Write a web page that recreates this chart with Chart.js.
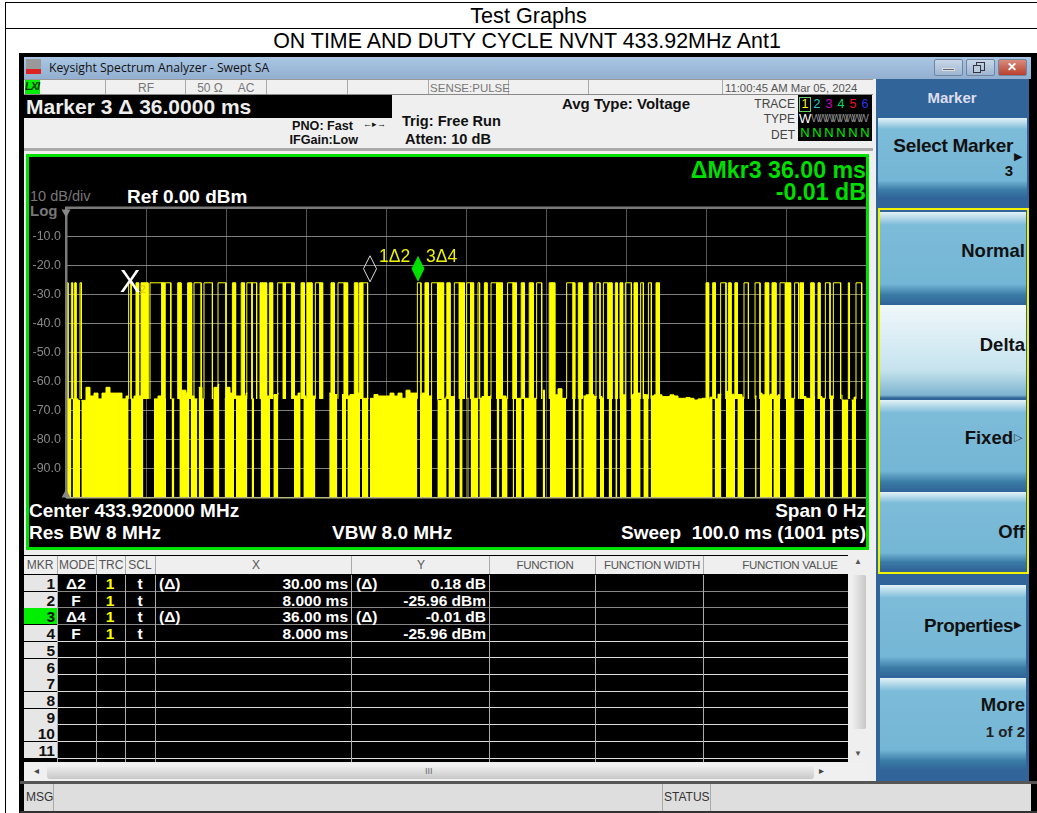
<!DOCTYPE html>
<html><head><meta charset="utf-8">
<title>ON TIME AND DUTY CYCLE</title>
<script src="https://cdn.jsdelivr.net/npm/chart.js@4"></script>
<style>
html,body{margin:0;padding:0;background:#fff;overflow:hidden}
body{width:1037px;height:813px;position:relative;font-family:"Liberation Sans",Arial,sans-serif}
.a{position:absolute;white-space:pre;box-sizing:border-box}
.b{font-weight:bold}
</style></head><body>
<div id="ui"></div>
<canvas id="trace" class="a" width="840" height="315" style="left:26px;top:195px;display:block;width:840px;height:315px"></canvas>
<script>
// sweep trace (ms along x, dBm along y)
const sweepMs = [0,100];
const yTicks = [-10,-20,-30,-40,-50,-60,-70,-80,-90];
const xTicks = [10,20,30,40,50,60,70,80,90];
const onLevel = -25.96;
const noiseFloor = -66;
// black gaps in the noise band, carrier on
const gapStart = [0.67,1.75,7.83,9.67,12.5,13.54,15.42,16.42,17.25,19.17,21,22.67,23.5,25.5,26.54,29.33,31.17,33.92,35,36.75,37.8,43.92,45.75,47.58,48.63,49.58,50.33,51.54,53.13,54.17,55.2,56,56.96,58.83,59.88,62.5,63.63,64.46,66.33,67.25,68.25,68.92,70,71.83,72.83,80.83,81.92,83.63,84.75,86.33,88.25,89.25,91.08,93.63,94.88,95.92,97.79,98.75];
const gapEnd = [0.83,1.92,8.13,11,13.2,14.17,15.58,16.58,18.42,19.83,21.25,23.2,24.33,25.92,28.5,29.67,32.9,34.5,35.17,37,38,44.25,46.42,47.8,49.17,50.17,50.58,51.67,53.83,54.46,55.83,56.25,57.25,59.58,60.5,63.33,64.04,64.67,66.75,67.83,68.67,69.25,70.63,72.17,73.08,81.08,82.5,83.92,86.13,86.75,88.42,90,92.25,94.25,95.5,96.96,98.21,100];
// hollow boxes at the top of the trace
const boxStart = [0.67,1.75,7.83,10.5,12.4,16,17.25,19,22.6,23.25,26.46,27.42,31.17,34,37.1,43.92,45.7,48.54,50.08,51.5,53.13,55.2,58.83,62.58,66.25,67.17,69.92,71.83,72.8,81.83,84.75,86.13,89.25,91.08,94.92,95.92,98.75];
const boxEnd = [0.83,1.92,8.13,12,13.1,16.9,18.3,20,23.25,23.83,27.17,28.25,31.75,34.79,37.7,44.37,46.46,49.17,50.6,51.7,53.83,55.9,59.46,63.4,66.75,67.75,70.67,72.17,73.17,82.5,85.3,86.75,89.92,91.58,95.5,96.83,99.46];
// short on/off bursts that smear to a solid column
const burstStart = [0,1.08,8.75,9.38,12,13.96,15.2,20.8,21.9,24.25,25.42,27.17,28.25,29.38,30.12,31.75,33.12,34.79,36.04,36.67,44.87,46.46,47.6,49.17,50.6,52.3,53.83,55.9,56.9,57.9,60.4,60.8,63.4,64.04,65.4,67.83,68.67,69.25,71,73.75,80,80.83,82.8,83.6,87.38,88.25,90,91.75,93.08,94,97.79];
const burstEnd = [0.25,1.25,9.08,10.25,12.33,14.38,15.7,21.2,22.3,25.08,25.83,27.42,28.54,29.79,30.75,32.08,33.54,35.2,36.46,37.08,45.3,47.2,48,49.8,50.95,52.63,54.54,56.3,57.3,58.4,60.8,61.1,63.6,64.54,65.8,68.25,68.92,69.58,71.42,74.17,80.33,81.17,83.13,83.92,87.83,88.75,90.58,92.17,93.5,94.25,97.92];
// noise top every 0.5 ms, 0..100
const noiseTop = [-66,-66,-66,-66.5,-66.5,-62,-65,-64,-66,-64,-62,-64,-64,-64,-66,-65,-66,-65,-65,-62,-66,-66,-66,-65,-66,-66,-66,-66,-66,-63,-64,-65,-66,-62,-66,-66,-66,-62,-61,-66,-62,-64,-65,-65,-65,-64,-66,-66,-66,-66,-65,-65,-64.5,-64,-64,-66,-65,-65,-64,-65,-66,-65,-65,-66,-65,-64,-64,
-64.5,-64.5,-64.5,-65,-64.5,-64.5,-64,-65.8,-65.8,-65.8,-64.5,-65,-65,-65,-64,-65,-64,-65.8,-63,-64,-64,-65,-64,-65,-65,-63,-66.5,-66,-65.2,-65.2,-65.2,-65.5,-65.8,-65.8,-65.8,-65.8,-65.8,-65.2,-65.2,-65,-65,-64.8,-65,-65.8,-65.8,-65.8,-65.8,-65.8,-65.8,-65.8,-65.8,-64,-63,-64,-64.6,-64.6,-62.5,-65.8,-65.8,-65.8,-65.8,-65,-65,-64.6,-64.6,-65.2,-65.2,-65.8,
-65.2,-65.2,-65.2,-65.2,-64.6,-64.6,-64.6,-64,-64,-64.5,-64.6,-65,-64.6,-64.6,-65.2,-65.2,-64.6,-65,-65.8,-65.8,-65.5,-65.8,-66.4,-66,-65.8,-66.2,-65.4,-66,-64.4,-63,-63.4,-64.4,-65,-64.5,-65.4,-66,-65.4,-65,-64,-64.6,-65,-64.4,-65,-64.6,-65,-65.8,-65.8,-65.8,-65.2,-65.2,-65.8,-65.8,-65.2,-65.2,-65.8,-65.8,-65,-64.6,-64.6,-66.4,-66.4,-66.4,-65.4,-65.4,-65.2,-65.2,-65.8,-65.8,-65.2,-65.2,-65.2,-65.2];
// marker table
const markerX = [38,8,44,8];
const markerRows = [
 ["1","Δ2","1","t","(Δ)","30.00 ms","(Δ)","0.18 dB"],
 ["2","F","1","t","","8.000 ms","","-25.96 dBm"],
 ["3","Δ4","1","t","(Δ)","36.00 ms","(Δ)","-0.01 dB"],
 ["4","F","1","t","","8.000 ms","","-25.96 dBm"],
 ["5"],["6"],["7"],["8"],["9"],["10"],["11"]];
const colHeads = ["MKR","MODE","TRC","SCL","X","Y","FUNCTION","FUNCTION WIDTH","FUNCTION VALUE"];
const colEdges = [24,57,96,125,155,351,489,595,703,848];
const headCenters = [40,77,111,140,256,421,545,652,790];
const statusCells = [105,185,266,347,428,508,588,722];

const ui = document.getElementById('ui');
function box(x,y,w,h,css){
  const d=document.createElement('div');d.className='a';
  d.style.cssText+=`left:${x}px;top:${y}px;width:${w}px;height:${h}px;${css||''}`;
  ui.appendChild(d);return d;
}
function txt(s,x,y,size,color,opt){
  opt=opt||{};
  const d=document.createElement('div');d.className='a'+(opt.bold?' b':'');
  d.textContent=s;
  let pos=`left:${x}px;`;
  if(opt.right)pos=`right:${1037-x}px;`;
  if(opt.center)pos=`left:${x}px;transform:translateX(-50%);`;
  d.style.cssText+=`${pos}top:${y}px;font-size:${size}px;line-height:${Math.round(size*1.2)}px;color:${color};${opt.css||''}`;
  ui.appendChild(d);return d;
}

// page table
box(5,2,1040,1,'background:#000');box(5,28,1040,1,'background:#000');box(5,2,1,811,'background:#000');
box(19,53,1,760,'background:#000');
txt("Test Graphs",528.5,3,21.6,'#000',{center:true});
txt("ON TIME AND DUTY CYCLE NVNT 433.92MHz Ant1",527,28,21.4,'#000',{center:true});

// window frame
box(20,53,1017,760,'background:#000');
box(24,57,1007,22,'background:linear-gradient(#aac6e4,#92afd0)');
box(26,59,15,15,'background:linear-gradient(#999 0 65%,#d22 65% 100%)');
txt("Keysight Spectrum Analyzer - Swept SA",49,60,12.2,'#111',{css:'font-family:"Open Sans"'});
[[934,29],[966,29],[998,29]].forEach((b,i)=>box(b[0],59,b[1],17,`border-radius:2px;border:1px solid #6f86a3;background:${i==2?'linear-gradient(#d98b7c,#b8402e)':'linear-gradient(#c8d7e8,#9db5d1)'}`));
box(942,68,13,3,'background:#667;border:1px solid #ddd');
box(976,62,9,9,'border:1px solid #334');box(973,65,8,8,'border:1px solid #334;background:#bcd');
txt("✕",1007,60,12,'#fff',{bold:true});

// main panel
box(24,79,852,702,'background:#efefef');
box(24,79,849,16,'background:#f0f0f0');
statusCells.forEach(x=>box(x,79,1,16,'background:#aaa'));
box(24,79,849,1,'background:#999');box(24,94,849,1,'background:#888');
box(25,80,15,14,'background:#0e0');
txt("LXI",25,80,11,'#030',{bold:true,css:'font-style:italic;letter-spacing:-1px'});
txt("RF",146,81,12,'#777',{center:true});
txt("50 Ω",210,81,12,'#777',{center:true});
txt("AC",246,81,12,'#777',{center:true});
txt("SENSE:PULSE",470,81,11.5,'#777',{center:true});
txt("11:00:45 AM Mar 05, 2024",725,81,11.3,'#555');
box(24,95,368,23,'background:#000');
txt("Marker 3 Δ 36.0000 ms",26,94,21,'#eee',{bold:true});
txt("PNO: Fast",353,119,12.6,'#111',{right:true,bold:true});
txt("IFGain:Low",358,133,12.6,'#111',{right:true,bold:true});
txt("←▸→",363,119,9,'#111',{});
txt("Trig: Free Run",402,112,14.6,'#111',{bold:true});
txt("Atten: 10 dB",405,130,14.6,'#111',{bold:true});
txt("Avg Type: Voltage",562,95,15,'#111',{bold:true});
txt("TRACE",795,97,12,'#444',{right:true});
txt("TYPE",795,112,12,'#444',{right:true});
txt("DET",795,128,12,'#444',{right:true});
box(798,95,74,46,'background:#000');
box(799,97,12,15,'border:1px solid #6c6');
["#ff0","#2cd","#c0c","#1d6","#e12","#33e"].forEach((c,i)=>txt(String(i+1),805+i*12,97,12.5,c,{center:true}));
txt("W",799,111,13,'#fff',{});
txt("WWWWWWWW",811,112,11,'#888',{css:'letter-spacing:-3.6px;font-size:11px'});
for(let i=0;i<6;i++)txt("N",805+i*12,125,13,'#0e0',{center:true});
box(24,148,849,3,'background:#aaa');

// screen
box(26,154,843,396,'background:#000;border:3px solid #00e000');
txt("ΔMkr3 36.00 ms",866,156,23.2,'#0d0',{right:true,bold:true});
txt("-0.01 dB",866,178,23.2,'#0d0',{right:true,bold:true});
txt("10 dB/div",30,188,14.5,'#777');
txt("Log",30,202,15,'#777',{bold:true});
txt("Ref 0.00 dBm",127,185,19,'#fff',{bold:true});
txt("Center 433.920000 MHz",29,499,19,'#fff',{bold:true});
txt("Res BW 8 MHz",29,521,19,'#fff',{bold:true});
txt("VBW 8.0 MHz",332,521,19,'#fff',{bold:true});
txt("Span 0 Hz",866,499,19,'#fff',{right:true,bold:true});
txt("Sweep  100.0 ms (1001 pts)",866,521,19,'#fff',{right:true,bold:true});

// marker table
box(24,555,824,207,'background:#000');
box(24,556,844,18,'background:#efefef');
colHeads.forEach((h,i)=>{
  if(i)box(colEdges[i],556,1,18,'background:#aaa');
  txt(h,headCenters[i],558,i>5?11.5:12,'#555',{center:true,css:i>5?'letter-spacing:-.3px':''});
});
markerRows.forEach((r,i)=>{
  const y=575+i*16.7;
  box(24,y,33,16,`background:${i==2?'#00ee00':'#e6e6e6'}`);
  txt(r[0],55,y-1,15.5,'#111',{right:true,bold:true});
  box(57,Math.round(y+15.5),791,1,`background:${i<3?'#888':'#ddd'}`);
  if(r.length>1){
    txt(r[1],76,y-1,15.5,'#fff',{center:true,bold:true});
    txt(r[2],110,y-1,15.5,'#ff0',{center:true,bold:true});
    txt(r[3],140,y-1,15.5,'#fff',{center:true,bold:true});
    txt(r[4],159,y-1,15.5,'#fff',{bold:true});
    txt(r[5],348,y-1,15.5,'#fff',{right:true,bold:true});
    txt(r[6],356,y-1,15.5,'#fff',{bold:true});
    txt(r[7],486,y-1,15.5,'#fff',{right:true,bold:true});
  }
});
colEdges.slice(1,9).forEach(x=>box(x,575,1,187,'background:#aaa'));
box(850,556,18,208,'background:#efefef');
box(851,575,15,154,'background:linear-gradient(90deg,#f2f2f2,#c8c8c8);border-radius:2px');
txt("▲",854,557,8,'#555');txt("▼",854,749,8,'#555');
box(24,763,844,18,'background:#f0f0f0');
box(47,764,767,15,'background:linear-gradient(#f4f4f4,#c8c8c8);border-radius:3px');
txt("◂",34,765,10,'#444');txt("▸",819,765,10,'#444');
txt("III",425,766,9,'#666');
// msg bar
box(20,781,1017,3,'background:#555');
box(24,784,1007,27,'background:#dedede');
box(53,784,1,27,'background:#aaa');box(662,784,1,27,'background:#aaa');box(710,784,1,27,'background:#aaa');
txt("MSG",26,790,12,'#333');txt("STATUS",664,790,12,'#333');
box(20,811,1017,2,'background:#333');

// softkeys
box(876,79,153,702,'background:#31659a');
txt("Marker",952,89,15,'#dde',{center:true,bold:true});
const keyGrad='background:linear-gradient(#e4f2f8 0,#7dbcd9 14%,#74b6d5 78%,#3a7ca6 90%,#31659a 100%)';
box(878,118,149,80,keyGrad);
[[212,92],[305,93],[400,91],[492,78],[585,92],[678,92]].forEach((k,i)=>{
  box(880,k[0],146,k[1],i==1?'background:linear-gradient(#f0f8fb,#c6e3ee 70%,#7db4cf 97%,#31659a)':keyGrad);
});
box(878,208,151,366,'border:2px solid #f3f300');
txt("Select Marker",1013,134,19,'#111',{right:true,bold:true,css:'letter-spacing:-.3px'});
txt("▶",1014,150,11,'#111');
txt("3",1013,162,15,'#111',{right:true,bold:true});
txt("Normal",1025,240,18.5,'#111',{right:true,bold:true});
txt("Delta",1025,334,18.5,'#111',{right:true,bold:true});
txt("Fixed",1013,427,18.5,'#111',{right:true,bold:true});
txt("▷",1014,431,11,'#333');
txt("Off",1025,521,18.5,'#111',{right:true,bold:true});
txt("Properties",1013,614,18.8,'#111',{right:true,bold:true,css:'letter-spacing:-.4px'});
txt("▶",1014,619,10,'#111');
txt("More",1025,694,18.5,'#111',{right:true,bold:true});
txt("1 of 2",1025,723,15,'#222',{right:true,bold:true});

// trace datasets
function noiseAt(ms){ return noiseTop[Math.min(Math.floor(ms*2),noiseTop.length-1)]; }
const offPts=[];
let cur=0;
gapStart.forEach((s,i)=>{
  if(s>cur){
    offPts.push({x:cur,y:noiseAt(cur)});
    for(let m=Math.ceil(cur*2)/2;m<s;m+=0.5) if(m>cur) offPts.push({x:m,y:noiseAt(m)});
    offPts.push({x:s,y:noiseAt(s-0.01)});
    offPts.push({x:s,y:null});
  }
  cur=gapEnd[i];
});
const onPts=[];
boxStart.forEach((s,i)=>{
  onPts.push({x:s,y:noiseFloor},{x:s,y:onLevel},{x:boxEnd[i],y:onLevel},{x:boxEnd[i],y:noiseFloor},{x:boxEnd[i],y:null});
});
const burstPts=[];
burstStart.forEach((s,i)=>{
  burstPts.push({x:s,y:noiseFloor},{x:s,y:onLevel},{x:burstEnd[i],y:onLevel},{x:burstEnd[i],y:noiseFloor},{x:burstEnd[i],y:null});
});

const markerPlugin={id:'markers',afterDatasetsDraw(c){
  const g=c.ctx,xs=c.scales.x,ys=c.scales.y,a=c.chartArea;
  const y0=ys.getPixelForValue(onLevel);
  g.save();
  g.fillStyle='#7a7a7a';
  g.fillRect(a.left-1,a.top-1,a.width+1,2.5);
  g.fillRect(a.left-1,a.top,2.5,a.height);
  g.fillStyle='#b8b880';g.fillRect(a.left,a.bottom-.5,a.width,1.5);
  g.fillStyle='#888';
  g.beginPath();g.moveTo(a.left-4.5,a.top+2);g.lineTo(a.left+4.5,a.top+2);g.lineTo(a.left,a.top+10);g.closePath();g.fill();
  g.beginPath();g.moveTo(a.left-4.5,a.bottom);g.lineTo(a.left+4.5,a.bottom);g.lineTo(a.left,a.bottom-8);g.closePath();g.fill();
  function diamond(ms,fill){
    const x=xs.getPixelForValue(ms);
    g.beginPath();g.moveTo(x,y0-1);g.lineTo(x+6.5,y0-14);g.lineTo(x,y0-27);g.lineTo(x-6.5,y0-14);g.closePath();
    if(fill){g.fillStyle='#00e000';g.fill();}else{g.strokeStyle='#ddd';g.lineWidth=1;g.stroke();}
  }
  diamond(markerX[0],false);diamond(markerX[2],true);
  g.textBaseline='middle';
  g.font='17.5px "Liberation Sans"';g.fillStyle='#f0f000';
  g.fillText('1Δ2',xs.getPixelForValue(markerX[0])+9,y0-26);
  g.fillText('3Δ4',xs.getPixelForValue(markerX[2])+8,y0-26);
  const xm=xs.getPixelForValue(markerX[1]);
  g.font='31px "Liberation Sans"';g.fillStyle='#fff';g.textAlign='center';
  g.fillText('X',xm,y0+1);
  g.font='bold 11px "Liberation Sans"';g.fillStyle='#e8d000';
  g.fillText('2',xm+13,y0+7);
  g.restore();
}};

new Chart(document.getElementById('trace'),{
  type:'line',
  data:{datasets:[
    {label:'off',data:offPts,stepped:true,borderColor:'#ffff00',borderWidth:1,backgroundColor:'#ffff00',fill:'start',pointRadius:0,spanGaps:false},
    {label:'bursts',data:burstPts,borderColor:'#ffff00',borderWidth:1,backgroundColor:'#ffff00',fill:{target:{value:noiseFloor}},pointRadius:0,spanGaps:false},
    {label:'on',data:onPts,borderColor:'#ffff00',borderWidth:1,fill:false,pointRadius:0,spanGaps:false}
  ]},
  options:{
    responsive:false,animation:false,events:[],
    plugins:{legend:{display:false},tooltip:{enabled:false}},
    scales:{
      x:{type:'linear',min:sweepMs[0],max:sweepMs[1],z:1,
        afterFit(a){a.height=0;},
        afterBuildTicks(a){a.ticks=xTicks.map(v=>({value:v}));},
        ticks:{display:false},
        border:{display:false},
        grid:{color:'rgba(130,130,130,.65)',lineWidth:1,drawTicks:false}},
      y:{min:-100,max:0,z:1,
        afterFit(a){a.width=40;},
        afterBuildTicks(a){a.ticks=yTicks.map(v=>({value:v}));},
        ticks:{color:'#888',font:{family:'"Liberation Sans"',size:12.5},padding:5,autoSkip:false,callback:v=>v.toFixed(1)},
        border:{display:false},
        grid:{color:'rgba(170,170,170,.75)',lineWidth:1,drawTicks:false}}
    }
  },
  plugins:[markerPlugin]
});
</script>
</body></html>
